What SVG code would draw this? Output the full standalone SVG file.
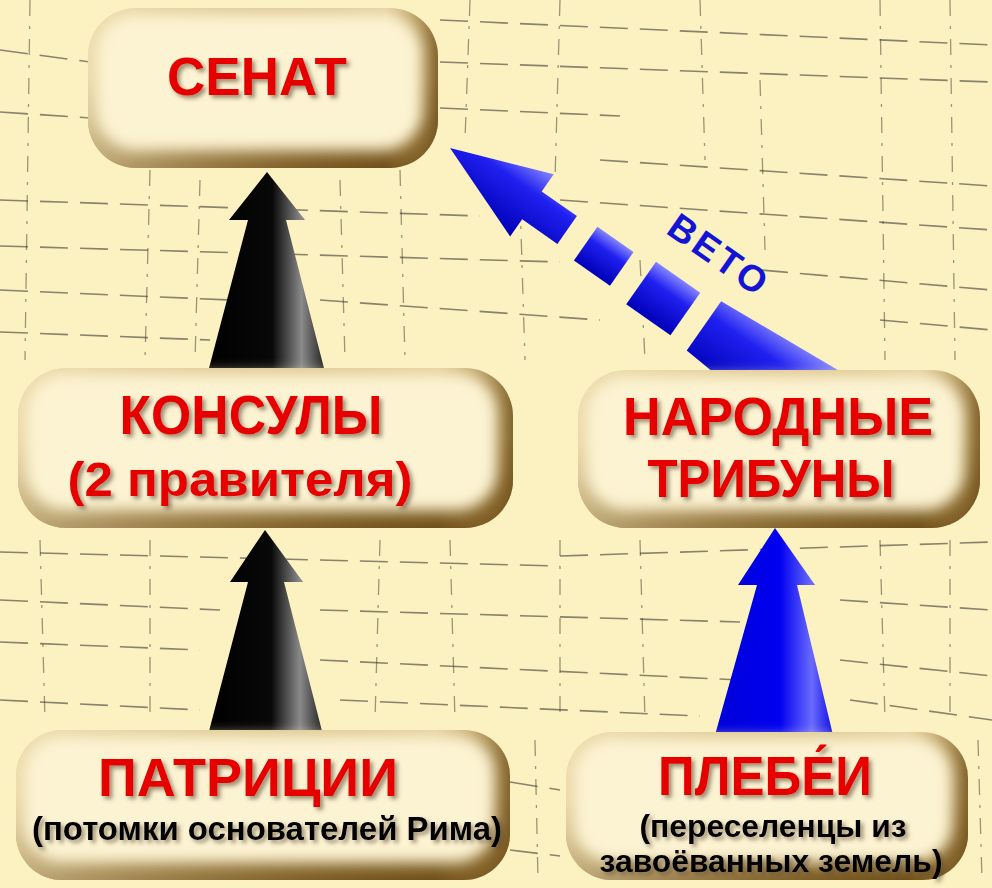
<svg xmlns="http://www.w3.org/2000/svg" width="992" height="888" viewBox="0 0 992 888">
<defs>
<style>
.tx { stroke:#3a3a30; stroke-width:1.6; fill:none; stroke-dasharray:28 12; opacity:.6 }
.tv { stroke:#3a3a30; stroke-width:1.3; fill:none; stroke-dasharray:16 10 3 10; opacity:.5 }
.title { font-family:"Liberation Sans", Arial, sans-serif; font-weight:bold; fill:#E60000; text-anchor:middle; filter:url(#sh) }
.sub { font-family:"Liberation Sans", Arial, sans-serif; font-weight:bold; fill:#000; text-anchor:middle; filter:url(#sh) }
.veto { font-family:"Liberation Sans", Arial, sans-serif; font-weight:bold; fill:#1414D4; text-anchor:middle; font-size:37px }
.rim { fill:url(#rimV) }
.rimh { fill:url(#rimH) }
.face { fill:#FCF3D2; filter:url(#soft) }
</style>
<linearGradient id="rimV" x1="0" y1="0" x2="0" y2="1">
<stop offset="0" stop-color="#E4D09C"/>
<stop offset="0.45" stop-color="#D8BD7E"/>
<stop offset="1" stop-color="#70501A"/>
</linearGradient>
<linearGradient id="rimH" x1="0" y1="0" x2="1" y2="0">
<stop offset="0" stop-color="#F6E9BE" stop-opacity="0.6"/>
<stop offset="0.85" stop-color="#B08A45" stop-opacity="0"/>
<stop offset="1" stop-color="#6E4E18" stop-opacity="0.8"/>
</linearGradient>
<filter id="soft" x="-10%" y="-20%" width="120%" height="140%"><feGaussianBlur stdDeviation="7"/></filter>
<filter id="sh" x="-5%" y="-20%" width="115%" height="160%"><feDropShadow dx="3" dy="3" stdDeviation="2" flood-color="#5a4a30" flood-opacity="0.6"/></filter>
<linearGradient id="blk" x1="0" y1="0" x2="1" y2="0">
<stop offset="0" stop-color="#000"/>
<stop offset="0.55" stop-color="#080808"/>
<stop offset="0.8" stop-color="#8a8a8a"/>
<stop offset="1" stop-color="#222"/>
</linearGradient>
<linearGradient id="blu" x1="0" y1="0" x2="1" y2="0">
<stop offset="0" stop-color="#0000D8"/>
<stop offset="0.55" stop-color="#0000F0"/>
<stop offset="0.82" stop-color="#6A6AFF"/>
<stop offset="1" stop-color="#1010E0"/>
</linearGradient>
<linearGradient id="bluD" x1="0" y1="0" x2="0" y2="1">
<stop offset="0" stop-color="#8484FF"/>
<stop offset="0.35" stop-color="#2020F0"/>
<stop offset="1" stop-color="#0000B8"/>
</linearGradient>
</defs>

<rect x="0" y="0" width="992" height="888" fill="#FCF1C1"/>

<g id="texture">
<path class="tx" d="M440 20 L992 45"/>
<path class="tx" d="M440 62 L992 82"/>
<path class="tx" d="M0 50 L90 62"/>
<path class="tx" d="M0 112 L90 118"/>
<path class="tx" d="M440 108 L620 116"/>
<path class="tx" d="M600 160 L992 186"/>
<path class="tx" d="M0 200 L480 216"/>
<path class="tx" d="M0 246 L560 262"/>
<path class="tx" d="M0 290 L230 300"/>
<path class="tx" d="M320 300 L600 320"/>
<path class="tx" d="M560 200 L992 230"/>
<path class="tx" d="M760 270 L992 290"/>
<path class="tx" d="M0 332 L210 340"/>
<path class="tx" d="M880 320 L992 330"/>
<path class="tx" d="M0 552 L560 566"/>
<path class="tx" d="M560 556 L992 542"/>
<path class="tx" d="M0 600 L220 610"/>
<path class="tx" d="M320 610 L740 622"/>
<path class="tx" d="M0 642 L200 650"/>
<path class="tx" d="M320 660 L740 680"/>
<path class="tx" d="M840 600 L992 610"/>
<path class="tx" d="M840 660 L992 676"/>
<path class="tx" d="M0 700 L200 710"/>
<path class="tx" d="M340 700 L700 716"/>
<path class="tx" d="M850 700 L992 720"/>
<path class="tx" d="M510 782 L560 790"/>
<path class="tx" d="M510 850 L560 856"/>
<path class="tv" d="M30 0 L25 360"/>
<path class="tv" d="M150 170 L145 360"/>
<path class="tv" d="M200 180 L195 360"/>
<path class="tv" d="M340 180 L345 360"/>
<path class="tv" d="M400 170 L405 360"/>
<path class="tv" d="M470 0 L465 140"/>
<path class="tv" d="M520 200 L525 360"/>
<path class="tv" d="M560 0 L555 180"/>
<path class="tv" d="M640 260 L645 360"/>
<path class="tv" d="M700 0 L705 160"/>
<path class="tv" d="M760 80 L765 250"/>
<path class="tv" d="M880 0 L885 360"/>
<path class="tv" d="M950 0 L955 360"/>
<path class="tv" d="M40 540 L45 720"/>
<path class="tv" d="M150 540 L150 720"/>
<path class="tv" d="M380 540 L375 720"/>
<path class="tv" d="M450 540 L455 720"/>
<path class="tv" d="M560 540 L560 720"/>
<path class="tv" d="M640 540 L645 720"/>
<path class="tv" d="M880 540 L885 720"/>
<path class="tv" d="M950 540 L950 720"/>
<path class="tv" d="M535 740 L538 880"/>
<path class="tv" d="M978 740 L982 880"/>
</g>

<g id="connectors">
<polygon points="267,172 305,220 286,220 325,372 208,372 248,220 229,220" fill="url(#blk)"/>
<polygon points="265,530 303,582 284,582 323,735 208,735 248,582 230,582" fill="url(#blk)"/>
<polygon points="775,528 815,585 797,585 833,735 715,735 757,585 738,585" fill="url(#blu)"/>
<g transform="translate(450,148) rotate(35)">
<polygon points="0,0 100,-38 100,-17 143,-17 143,17 100,17 100,38" fill="url(#bluD)"/>
<rect x="166" y="-20" width="44" height="41" fill="url(#bluD)"/>
<rect x="234" y="-25" width="54" height="52" fill="url(#bluD)"/>
<polygon points="310,-30 450,-41 450,41 310,30" fill="url(#bluD)"/>
</g>
<text class="veto" transform="translate(718,254) rotate(35)" y="13" textLength="112" lengthAdjust="spacing">ВЕТО</text>
</g>

<g id="senat">
<rect class="rim" x="88" y="8" width="350" height="160" rx="48"/>
<rect class="rimh" x="88" y="8" width="350" height="160" rx="48"/>
<rect class="face" x="96" y="14" width="326" height="136" rx="40"/>
<text class="title" x="257" y="95" font-size="53" textLength="180" lengthAdjust="spacingAndGlyphs">СЕНАТ</text>
</g>

<g id="konsuly">
<rect class="rim" x="18" y="368" width="495" height="160" rx="48"/>
<rect class="rimh" x="18" y="368" width="495" height="160" rx="48"/>
<rect class="face" x="26" y="374" width="471" height="136" rx="40"/>
<text class="title" x="251" y="434" font-size="56" textLength="263" lengthAdjust="spacingAndGlyphs">КОНСУЛЫ</text>
<text class="title" x="240" y="496" font-size="48" textLength="345" lengthAdjust="spacingAndGlyphs">(2 правителя)</text>
</g>

<g id="tribuny">
<rect class="rim" x="578" y="370" width="402" height="158" rx="48"/>
<rect class="rimh" x="578" y="370" width="402" height="158" rx="48"/>
<rect class="face" x="586" y="376" width="378" height="134" rx="40"/>
<text class="title" x="778" y="435" font-size="53" textLength="310" lengthAdjust="spacingAndGlyphs">НАРОДНЫЕ</text>
<text class="title" x="771" y="497" font-size="53" textLength="247" lengthAdjust="spacingAndGlyphs">ТРИБУНЫ</text>
</g>

<g id="patricii">
<rect class="rim" x="16" y="730" width="494" height="150" rx="46"/>
<rect class="rimh" x="16" y="730" width="494" height="150" rx="46"/>
<rect class="face" x="24" y="736" width="470" height="126" rx="38"/>
<text class="title" x="248" y="796" font-size="53" textLength="300" lengthAdjust="spacingAndGlyphs">ПАТРИЦИИ</text>
<text class="sub" x="267" y="840" font-size="34" textLength="470" lengthAdjust="spacingAndGlyphs">(потомки основателей Рима)</text>
</g>

<g id="plebei">
<rect class="rim" x="566" y="732" width="402" height="148" rx="46"/>
<rect class="rimh" x="566" y="732" width="402" height="148" rx="46"/>
<rect class="face" x="574" y="738" width="378" height="124" rx="38"/>
<text class="title" x="765" y="795" font-size="55" textLength="214" lengthAdjust="spacingAndGlyphs">ПЛЕБЕ́И</text>
<text class="sub" x="773" y="837" font-size="31" textLength="267" lengthAdjust="spacingAndGlyphs">(переселенцы из</text>
<text class="sub" x="771" y="872" font-size="31" textLength="343" lengthAdjust="spacingAndGlyphs">завоёванных земель)</text>
</g>
</svg>
